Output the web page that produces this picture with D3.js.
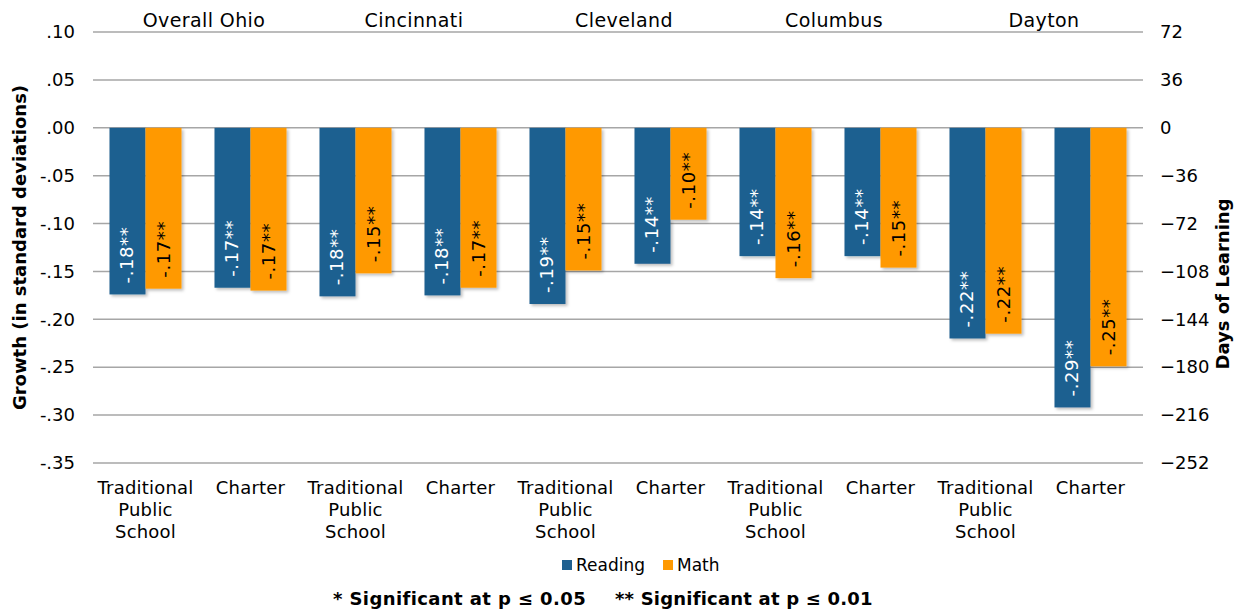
<!DOCTYPE html>
<html>
<head>
<meta charset="utf-8">
<script src="https://cdn.jsdelivr.net/npm/d3@7"></script>
<style>
  body { margin: 0; background: #fff; }
  svg text { font-family: "DejaVu Sans", Verdana, sans-serif; }
</style>
</head>
<body>
<svg></svg>
<script>
// chart data
var regions = ["Overall Ohio", "Cincinnati", "Cleveland", "Columbus", "Dayton"];
var schoolTypes = ["Traditional Public School", "Charter"];
var reading = [-0.174, -0.167, -0.176, -0.175, -0.184, -0.142, -0.134, -0.134, -0.220, -0.292];
var math = [-0.168, -0.170, -0.152, -0.167, -0.149, -0.096, -0.157, -0.146, -0.215, -0.249];
var readingLabels = ["-.18**", "-.17**", "-.18**", "-.18**", "-.19**", "-.14**", "-.14**", "-.14**", "-.22**", "-.29**"];
var mathLabels = ["-.17**", "-.17**", "-.15**", "-.17**", "-.15**", "-.10**", "-.16**", "-.15**", "-.22**", "-.25**"];
var leftTicks = [0.10, 0.05, 0.00, -0.05, -0.10, -0.15, -0.20, -0.25, -0.30, -0.35];
var rightTicks = [72, 36, 0, -36, -72, -108, -144, -180, -216, -252];
var seriesNames = ["Reading", "Math"];
var footnotes = ["* Significant at p \u2264 0.05", "** Significant at p \u2264 0.01"];

var drawChart = function()
{
  var screen = { width: 1241, height: 609 };
  var svg = d3.select("svg")
              .attr("width", screen.width)
              .attr("height", screen.height);

  var margins = { top: 32, bottom: 146, left: 93, right: 98 };
  var width = screen.width - margins.left - margins.right;
  var height = screen.height - margins.top - margins.bottom;

  var colors = { Reading: "#1f6090", Math: "#ff9900" };

  var categories = [];
  regions.forEach(function(r) {
    schoolTypes.forEach(function(t) { categories.push(r + "|" + t); });
  });
  var rows = categories.map(function(c, i) {
    return { key: c, type: c.split("|")[1], reading: reading[i], math: math[i],
             rl: readingLabels[i], ml: mathLabels[i] };
  });

  var xscale = d3.scaleBand()
                 .domain(categories)
                 .range([0, width])
                 .paddingInner(0.314)
                 .paddingOuter(0.157);
  var inner = d3.scaleBand()
                .domain(seriesNames)
                .range([0, xscale.bandwidth()]);
  var yscale = d3.scaleLinear()
                 .domain([-0.35, 0.10])
                 .range([height, 0]);
  var yright = d3.scaleLinear()
                 .domain([-252, 72])
                 .range([height, 0]);

  var defs = svg.append("defs");
  var f = defs.append("filter").attr("id", "shadow")
              .attr("x", "-20%").attr("y", "-5%").attr("width", "150%").attr("height", "115%");
  f.append("feDropShadow").attr("dx", 2).attr("dy", 2).attr("stdDeviation", 1.5)
   .attr("flood-color", "#000").attr("flood-opacity", 0.25);

  var plot = svg.append("g")
                .attr("transform", "translate(" + margins.left + "," + margins.top + ")");

  // gridlines
  plot.append("g").selectAll("line")
      .data(leftTicks)
      .enter().append("line")
      .attr("x1", 0).attr("x2", width)
      .attr("y1", function(d) { return yscale(d); })
      .attr("y2", function(d) { return yscale(d); })
      .attr("stroke", "#a6a6a6")
      .attr("stroke-width", 1.5);

  // left axis
  var leftAxis = d3.axisLeft(yscale)
                   .tickValues(leftTicks)
                   .tickSize(0)
                   .tickPadding(18)
                   .tickFormat(function(d) {
                     var s = d3.format(".2f")(Math.abs(d)).replace(/^0/, "");
                     return (d < -1e-9 ? "-" : "") + s;
                   });
  var la = plot.append("g").call(leftAxis);
  la.select(".domain").remove();
  la.selectAll("text").attr("font-size", 18).attr("fill", "#000")
    .style("font-family", "'DejaVu Sans', Verdana, sans-serif");

  // right axis
  var rightAxis = d3.axisRight(yright)
                    .tickValues(rightTicks)
                    .tickSize(0)
                    .tickPadding(17);
  var ra = plot.append("g").attr("transform", "translate(" + width + ",0)").call(rightAxis);
  ra.select(".domain").remove();
  ra.selectAll("text").attr("font-size", 18).attr("fill", "#000")
    .style("font-family", "'DejaVu Sans', Verdana, sans-serif");

  // bars
  var groups = plot.selectAll(".cat")
                   .data(rows)
                   .enter().append("g")
                   .attr("class", "cat")
                   .attr("transform", function(d) { return "translate(" + xscale(d.key) + ",0)"; });

  groups.append("rect")
        .attr("x", inner("Reading"))
        .attr("width", inner.bandwidth())
        .attr("y", yscale(0))
        .attr("height", function(d) { return yscale(d.reading) - yscale(0); })
        .attr("fill", colors.Reading)
        .attr("filter", "url(#shadow)");
  groups.append("rect")
        .attr("x", inner("Math"))
        .attr("width", inner.bandwidth())
        .attr("y", yscale(0))
        .attr("height", function(d) { return yscale(d.math) - yscale(0); })
        .attr("fill", colors.Math)
        .attr("filter", "url(#shadow)");

  // bar labels, rotated
  groups.append("text")
        .attr("transform", function(d) {
          return "translate(" + (inner("Reading") + inner.bandwidth() / 2 + 6) + "," + (yscale(d.reading) - 11) + ") rotate(-90)";
        })
        .attr("font-size", 18)
        .attr("letter-spacing", 0.6)
        .attr("fill", "#fff")
        .text(function(d) { return d.rl; });
  groups.append("text")
        .attr("transform", function(d) {
          return "translate(" + (inner("Math") + inner.bandwidth() / 2 + 6) + "," + (yscale(d.math) - 11) + ") rotate(-90)";
        })
        .attr("font-size", 18)
        .attr("letter-spacing", 0.6)
        .attr("fill", "#000")
        .text(function(d) { return d.ml; });

  // category labels
  var catText = groups.append("text")
                      .attr("text-anchor", "middle")
                      .attr("font-size", 18)
                      .attr("letter-spacing", 0.2)
                      .attr("fill", "#000")
                      .attr("y", height + 31);
  catText.each(function(d) {
    var words = d.type === "Charter" ? ["Charter"] : ["Traditional", "Public", "School"];
    var t = d3.select(this);
    words.forEach(function(w, i) {
      t.append("tspan")
       .attr("x", xscale.bandwidth() / 2)
       .attr("dy", i === 0 ? 0 : 22)
       .text(w);
    });
  });

  // region titles
  plot.selectAll(".region")
      .data(regions)
      .enter().append("text")
      .attr("class", "region")
      .attr("text-anchor", "middle")
      .attr("font-size", 19)
      .attr("letter-spacing", 0.4)
      .attr("fill", "#000")
      .attr("x", function(d) {
        var a = xscale(d + "|" + schoolTypes[0]);
        var b = xscale(d + "|" + schoolTypes[1]) + xscale.bandwidth();
        return (a + b) / 2 + 6;
      })
      .attr("y", -5)
      .text(function(d) { return d; });

  // axis titles
  svg.append("text")
     .attr("transform", "translate(26," + (margins.top + height / 2) + ") rotate(-90)")
     .attr("text-anchor", "middle")
     .attr("font-size", 18)
     .attr("font-weight", "bold")
     .text("Growth (in standard deviations)");
  svg.append("text")
     .attr("transform", "translate(1229,284) rotate(-90)")
     .attr("text-anchor", "middle")
     .attr("font-size", 18)
     .attr("font-weight", "bold")
     .text("Days of Learning");

  // legend
  var legend = svg.append("g").attr("transform", "translate(562,565)");
  var lx = 0;
  seriesNames.forEach(function(s) {
    legend.append("rect").attr("x", lx).attr("y", -5).attr("width", 10).attr("height", 10)
          .attr("fill", colors[s]);
    var t = legend.append("text").attr("x", lx + 14).attr("y", 6)
                  .attr("font-size", 17).text(s);
    lx += 14 + t.node().getComputedTextLength() + 18;
  });

  // footnotes
  svg.append("text")
     .attr("x", 333).attr("y", 605)
     .attr("font-size", 18).attr("font-weight", "bold")
     .attr("letter-spacing", 0.4)
     .text(footnotes[0]);
  svg.append("text")
     .attr("x", 615).attr("y", 605)
     .attr("font-size", 18).attr("font-weight", "bold")
     .attr("letter-spacing", 0.2)
     .text(footnotes[1]);
}

drawChart();
</script>
</body>
</html>
